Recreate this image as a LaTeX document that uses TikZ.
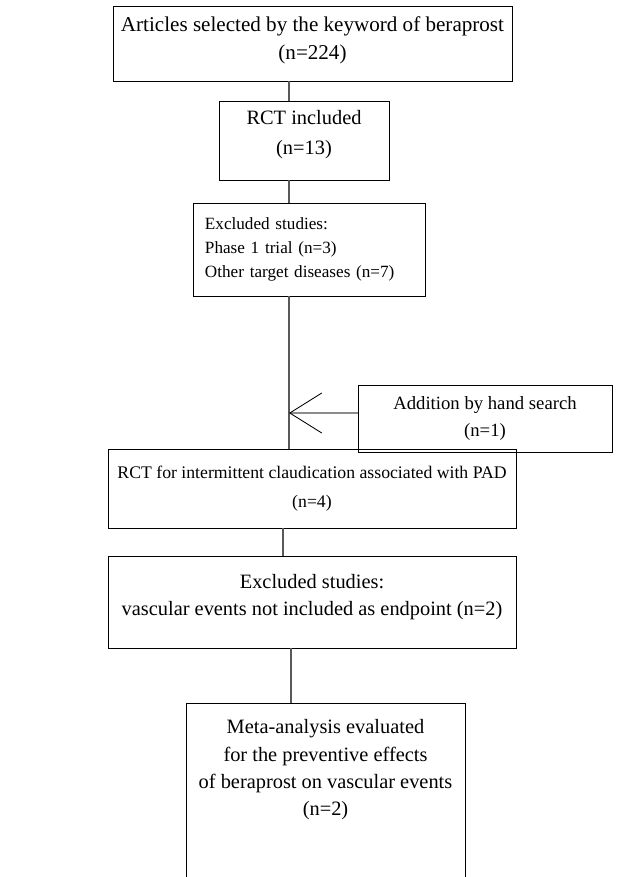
\documentclass[tikz,border=0pt]{standalone}
\usepackage{fontspec}
\setmainfont{Liberation Serif}
\usetikzlibrary{arrows.meta}

\begin{document}
\begin{tikzpicture}[x=0.025cm, y=-0.025cm,
  box/.style={draw=black, line width=0.6pt, align=center, inner sep=0pt,
    font=\fontsize{14.5}{19.5}\selectfont},
  conn/.style={draw=black!65, line width=2pt},
  addconn/.style={draw=black!45, line width=2pt}]
  \useasboundingbox (0,0) rectangle (632,877);

  \node[box, minimum width=9.975cm, minimum height=1.875cm, text depth=0.28cm,
    font=\fontsize{15}{19.5}\selectfont] (A) at (312.5,43.5)
    {Articles selected by the keyword of beraprost\\(n=224)};
  \node[box, minimum width=4.25cm, minimum height=1.975cm, text depth=0.42cm]
    (B) at (304,140.5) {RCT included\\[2pt](n=13)};
  \node[box, minimum width=5.8cm, minimum height=2.325cm, align=left,
    text width=5.2cm, inner xsep=0.3cm,
    font=\fontsize{12.2}{17}\selectfont] (C) at (309,249.5)
    {Excluded studies:\\Phase 1 trial (n=3)\\Other target diseases (n=7)};
  \node[box, minimum width=6.35cm, minimum height=1.675cm,
    font=\fontsize{13.3}{19.5}\selectfont] (ADD) at (485,418.5)
    {Addition by hand search\\(n=1)};
  \node[box, minimum width=10.2cm, minimum height=1.975cm,
    font=\fontsize{12.6}{20.5}\selectfont] (D) at (312,488.5)
    {RCT for intermittent claudication associated with PAD\\(n=4)};
  \node[box, minimum width=10.2cm, minimum height=2.3cm, text depth=0.36cm]
    (E) at (312,602)
    {Excluded studies:\\vascular events not included as endpoint (n=2)};
  \node[box, anchor=north, minimum width=6.975cm, inner ysep=0.4cm,
    text depth=1.5cm] (F) at (325.5,703)
    {Meta-analysis evaluated\\for the preventive effects\\of beraprost on vascular events\\(n=2)};

  \coordinate (s1) at (289,0);
  \coordinate (s2) at (283,0);
  \coordinate (s3) at (291,0);
  \coordinate (J) at (289,413);

  \draw[conn] (A.south -| s1) -- (B.north -| s1);
  \draw[conn] (B.south -| s1) -- (C.north -| s1);
  \draw[conn] (C.south -| J) -- (D.north -| J);
  \draw[addconn, -{Straight Barb[length=0.8cm, width=1cm, line width=0.6pt, black]}]
    (ADD.west |- J) -- (J);
  \draw[conn] (D.south -| s2) -- (E.north -| s2);
  \draw[conn] (E.south -| s3) -- (F.north -| s3);
\end{tikzpicture}
\end{document}
